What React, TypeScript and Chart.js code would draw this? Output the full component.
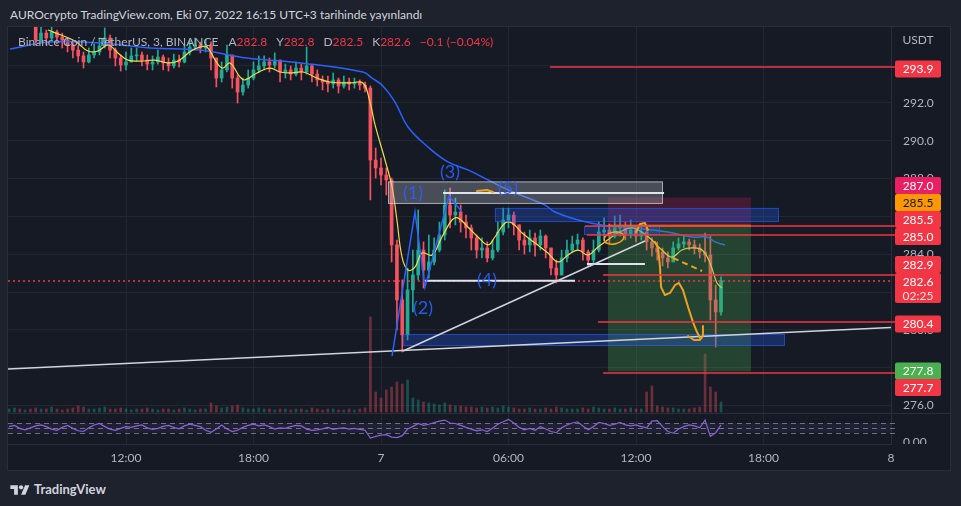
import React, { useEffect, useRef } from 'react';
import { Chart, registerables } from 'chart.js';

Chart.register(...registerables);

const FONT = 'Lato, Roboto, "Open Sans", sans-serif';

// ---------------- data (time in hours from 7 Oct 00:00, UTC+3) ----------------
const CANDLE_START = -17.5;
const CANDLE_STEP = 0.25;
const FIRST_OPEN = 296.2;

const closes = [
  296.30, 296.45, 296.25, 296.40, 296.15, 295.33, 295.70, 295.44, 295.76, 295.49,
  295.33, 295.07, 294.80, 294.49, 294.17, 294.54, 294.70, 295.02, 295.44, 294.80,
  294.38, 294.01, 294.17, 294.49, 294.54, 294.27, 294.06, 294.17, 294.43, 294.12,
  293.96, 294.27, 294.17, 294.70, 294.96, 295.07, 294.91, 295.02, 294.38, 293.32,
  293.75, 294.54, 293.32, 292.58, 292.95, 293.32, 293.75, 293.96, 294.17, 294.01,
  294.27, 293.64, 293.75, 293.53, 293.85, 293.64, 293.96, 293.53, 293.22, 293.11,
  293.01, 293.22, 292.90, 293.11, 293.01, 293.06, 292.95, 292.79, 288.98, 288.56,
  288.19, 287.93, 284.49, 281.58, 279.73, 282.11, 282.90, 284.22, 283.16, 283.59,
  284.22, 285.02, 286.60, 286.07, 286.23, 285.70, 285.39, 284.86, 284.22, 284.33,
  283.80, 284.22, 285.17, 285.81, 286.07, 285.55, 284.75, 284.49, 284.86, 284.49,
  284.96, 284.33, 283.27, 282.90, 283.80, 284.22, 284.54, 284.75, 284.12, 283.69,
  284.22, 285.17, 285.28, 284.96, 285.39, 285.49, 285.07, 285.28, 284.96, 285.17,
  284.65, 284.33, 284.12, 283.80, 283.59, 284.33, 284.54, 284.65, 284.49, 284.33,
  284.12, 283.96, 281.58, 280.94, 282.60,
];
const highs = [
  296.50, 296.60, 296.50, 296.55, 296.45, 296.20, 296.02, 295.86, 296.05, 295.86,
  295.70, 295.44, 295.23, 295.02, 294.70, 294.91, 295.12, 295.44, 295.97, 295.60,
  294.91, 294.54, 294.70, 294.91, 294.91, 294.70, 294.54, 294.49, 294.80, 294.54,
  294.38, 294.59, 294.54, 295.07, 295.33, 295.44, 295.23, 295.33, 295.23, 294.27,
  294.17, 295.07, 294.54, 293.48, 293.32, 293.75, 294.17, 294.49, 294.49, 294.38,
  294.65, 294.17, 294.06, 293.96, 294.17, 294.06, 294.96, 294.06, 293.75, 293.43,
  293.43, 293.59, 293.32, 293.43, 293.32, 293.32, 293.22, 293.11, 292.90, 289.62,
  289.09, 288.56, 288.03, 284.75, 282.64, 283.27, 284.22, 286.34, 284.65, 285.02,
  284.86, 285.70, 287.40, 287.50, 286.97, 286.60, 286.07, 285.55, 285.02, 284.86,
  284.65, 284.75, 285.70, 286.44, 286.44, 286.23, 285.55, 285.17, 285.28, 285.12,
  285.28, 285.02, 284.22, 283.69, 284.22, 284.75, 284.96, 285.07, 284.86, 284.22,
  284.75, 285.70, 285.92, 285.60, 286.02, 286.07, 285.70, 285.81, 285.49, 285.60,
  285.39, 284.86, 284.65, 284.33, 284.12, 284.65, 284.86, 284.96, 284.80, 284.75,
  284.54, 285.12, 284.96, 282.37, 282.80,
];
const lows = [
  296.10, 296.20, 296.10, 296.15, 296.05, 295.07, 295.23, 295.07, 295.33, 295.12,
  294.91, 294.70, 294.38, 294.17, 293.85, 294.12, 294.38, 294.54, 294.91, 294.38,
  293.96, 293.69, 293.75, 294.17, 294.22, 293.96, 293.75, 293.75, 294.06, 293.75,
  293.69, 293.85, 293.90, 294.12, 294.54, 294.80, 294.65, 294.70, 293.75, 292.85,
  293.11, 293.64, 292.79, 292.00, 292.42, 292.79, 293.22, 293.59, 293.75, 293.64,
  293.85, 293.11, 293.32, 293.22, 293.43, 293.22, 293.53, 293.11, 292.90, 292.69,
  292.58, 292.79, 292.53, 292.79, 292.69, 292.79, 292.69, 292.58, 286.87, 288.03,
  287.66, 287.13, 283.59, 279.99, 278.83, 279.46, 280.94, 282.64, 282.21, 282.74,
  283.43, 284.12, 284.75, 285.39, 285.55, 285.17, 284.86, 284.22, 283.80, 283.80,
  283.59, 283.69, 284.12, 285.02, 285.39, 285.02, 284.22, 284.01, 284.12, 283.90,
  284.22, 283.80, 282.90, 282.48, 283.06, 283.59, 284.12, 284.22, 283.69, 283.32,
  283.48, 284.12, 284.75, 284.54, 284.86, 284.96, 284.75, 284.86, 284.65, 284.75,
  284.22, 283.90, 283.69, 283.38, 283.27, 283.80, 284.22, 284.33, 284.22, 284.01,
  283.80, 283.59, 280.52, 279.09, 280.78,
];
const volumes = [
  3, 4, 3, 2, 3, 4, 3, 3, 5, 3,
  2, 3, 4, 6, 5, 3, 3, 4, 5, 3,
  3, 4, 3, 2, 3, 3, 4, 3, 2, 3,
  3, 2, 3, 4, 3, 2, 3, 3, 9, 6,
  4, 5, 6, 7, 4, 3, 3, 4, 3, 3,
  2, 3, 3, 2, 3, 3, 2, 4, 3, 2,
  3, 3, 2, 2, 3, 2, 3, 4, 95, 20,
  14, 22, 25, 30, 28, 32, 14, 12, 10, 9,
  8, 7, 9, 7, 6, 6, 5, 5, 4, 5,
  4, 5, 4, 6, 5, 4, 3, 3, 4, 3,
  3, 4, 3, 5, 4, 3, 3, 3, 4, 3,
  5, 4, 3, 3, 4, 3, 3, 4, 3, 3,
  20, 26, 6, 5, 4, 4, 3, 3, 3, 4,
  5, 58, 25, 20, 10,
];
const rsiValues = [
  55, 60, 48, 42, 50, 58, 62, 55, 45, 40,
  52, 60, 48, 38, 35, 50, 62, 68, 55, 45,
  40, 48, 55, 52, 58, 62, 50, 44, 48, 56,
  60, 52, 46, 58, 65, 60, 55, 40, 32, 45,
  62, 45, 35, 40, 52, 60, 65, 58, 62, 55,
  45, 50, 48, 55, 60, 58, 45, 40, 42, 46,
  52, 44, 48, 50, 45, 48, 44, 40, 8, 15,
  20, 22, 12, 10, 18, 45, 55, 68, 60, 65,
  72, 78, 82, 70, 68, 60, 52, 45, 38, 42,
  35, 48, 65, 75, 85, 70, 52, 42, 48, 40,
  55, 45, 35, 30, 50, 62, 70, 75, 58, 42,
  55, 72, 68, 60, 65, 72, 62, 58, 62, 55,
  50, 78, 80, 55, 35, 28, 45, 55, 62, 58,
  50, 82, 15, 30, 62,
];

const emaTimes = [
  -15.67, -15.06, -14.40, -13.79, -13.32, -12.85, -12.38, -11.91, -11.29, -10.64,
  -10.02, -9.55, -8.94, -8.52, -8.19, -7.72, -7.44, -7.11, -6.64, -6.40,
  -5.84, -5.22, -4.75, -4.28, -3.67, -3.01, -2.40, -1.46, -0.85, -0.52,
  -0.28, 0.19, 0.52, 0.75, 0.99, 1.27, 1.60, 1.93, 2.40, 2.87,
  3.34, 3.62, 4.09, 4.56, 5.04, 5.36, 5.84, 6.16, 6.64, 7.25,
  7.86, 8.33, 8.80, 9.27, 9.74, 10.21, 10.54, 11.15, 11.81, 12.28,
  12.75, 13.22, 13.69, 14.16, 14.64, 15.11, 15.48, 15.81, 16.05,
];
const emaValues = [
  295.86, 295.60, 295.28, 294.75, 294.75, 295.07, 294.65, 294.27, 294.22, 294.27,
  294.12, 294.22, 294.75, 294.96, 294.96, 294.12, 293.85, 294.12, 293.38, 293.22,
  293.59, 293.85, 293.64, 293.59, 293.64, 293.32, 293.11, 293.06, 293.06, 292.05,
  290.84, 288.98, 287.56, 285.81, 283.85, 283.16, 283.32, 284.06, 283.96, 284.91,
  285.81, 285.92, 285.44, 284.91, 284.49, 284.91, 285.65, 285.65, 285.12, 284.59,
  284.06, 283.59, 283.96, 284.22, 283.96, 284.38, 284.65, 285.12, 285.39, 285.17,
  284.75, 284.22, 283.85, 284.22, 284.33, 284.22, 283.54, 282.48, 282.21,
];
const maTimes = [
  -17.46, -15.58, -13.22, -10.87, -8.52, -6.31, -3.81, -0.85, -0.42, 0.09,
  0.66, 1.27, 2.21, 3.15, 4.09, 5.04, 5.98, 6.92, 7.72, 8.19,
  9.27, 10.40, 11.95, 13.51, 14.64, 15.34, 15.72, 16.19,
];
const maValues = [
  294.86, 295.23, 295.17, 294.91, 294.80, 294.38, 294.12, 293.64, 293.32, 292.90,
  292.05, 290.73, 289.67, 288.88, 288.46, 287.93, 287.40, 286.97, 286.60, 286.23,
  285.81, 285.55, 285.39, 285.17, 284.91, 284.91, 284.65, 284.49,
];

const timeTicks = [-12, -6, 0, 6, 12, 18, 24];
const timeLabels = ['12:00', '18:00', '7', '06:00', '12:00', '18:00', '8'];
const priceTicks = [276, 278, 280, 282, 284, 286, 288, 290, 292, 294];
const rsiLevels = [70, 50, 30];

const lastPrice = 282.6;
const countdown = '02:25';
const axisLabelPrices = [293.9, 287.0, 285.5, 285.5, 285.0, 282.9, 280.4, 277.8, 277.7];

// drawings, in (hour, price)
const levelPrices = [293.9, 285.5, 285.0, 282.9, 280.4, 277.7];
const levelStarts = [7.95, 9.6, 9.69, 10.45, 10.21, 10.45];
const positionTimes = [10.68, 17.41];
const positionEntry = 285.5;
const positionStop = 287.0;
const positionTarget = 277.8;
const blueBoxes = [
  [5.36, 18.73, 286.45, 285.70],
  [9.55, 13.13, 285.49, 285.02],
  [1.04, 19.01, 279.78, 279.14],
];
const grayBox = [0.33, 13.27, 287.85, 286.66];
const whiteLevels = [
  [2.92, 13.32, 287.24],
  [2.07, 9.13, 282.6],
  [9.69, 12.42, 283.48],
];
const trendLines = [
  [-17.553, 277.93, 24, 280.12],
  [1.04, 278.88, 12.42, 284.70],
];
const waveTimes = [0.52, 1.60, 2.07, 3.20, 3.81];
const wavePrices = [278.61, 286.23, 282.26, 287.08, 286.23];
const waveLabels = ['(1)', '(2)', '(3)', '(4)', '(5)'];
const waveLabelTimes = [1.51, 1.98, 3.25, 4.99, 5.98];
const waveLabelPrices = [287.24, 281.15, 288.35, 282.63, 287.50];
const projTimes = [12.89, 13.04, 13.13, 13.18, 13.36, 13.60, 13.84, 14.02, 14.21, 14.45, 14.68, 14.87, 15.01];
const projPrices = [284.65, 284.33, 283.32, 282.26, 281.84, 281.95, 282.37, 282.48, 282.11, 281.21, 280.41, 279.88, 279.57];
const hookTimes = [14.45, 14.73, 15.01, 15.15, 15.15];
const hookPrices = [279.67, 279.46, 279.46, 279.67, 280.20];
const dashTimes = [13.74, 15.11];
const dashPrices = [283.80, 283.11];
const tickTimes = [4.52, 4.99, 5.27];
const tickPrices = [287.34, 287.40, 287.29];
const loopBox = [10.49, 11.44, 285.17, 284.54];
const bumpTimes = [12.0, 12.19, 12.42, 12.56];
const bumpPrices = [285.17, 285.60, 285.65, 285.28];

// ---------------- chart ----------------
const UP = '#22ab94';
const DOWN = '#f7525f';

const X_MIN = -17.553;
const X_MAX = 24;
const Y_MIN = 273.958;
const Y_MAX = 296.021;
const PANE_SPLIT = 275.6;

function rrect(ctx: CanvasRenderingContext2D, x: number, y: number, w: number, h: number, r: number) {
  ctx.beginPath();
  ctx.moveTo(x + r, y);
  ctx.arcTo(x + w, y, x + w, y + h, r);
  ctx.arcTo(x + w, y + h, x, y + h, r);
  ctx.arcTo(x, y + h, x, y, r);
  ctx.arcTo(x, y, x + w, y, r);
  ctx.closePath();
}

const LABEL_STYLES = [
  { bg: '#f23645', fg: '#ffffff', dy: 1.9 },
  { bg: '#e91e63', fg: '#ffffff', dy: -12 },
  { bg: '#ff9800', fg: '#131722', dy: -23.4 },
  { bg: '#f23645', fg: '#ffffff', dy: -6.4 },
  { bg: '#f23645', fg: '#ffffff', dy: 1.2 },
  { bg: '#f23645', fg: '#ffffff', dy: -10.5 },
  { bg: '#f23645', fg: '#ffffff', dy: 1.8 },
  { bg: '#4caf50', fg: '#ffffff', dy: -0.4 },
  { bg: '#f23645', fg: '#ffffff', dy: 14.2 },
];

const overlayPlugin = {
  id: 'tvOverlay',
  beforeDatasetsDraw(chart: any) {
    const { ctx, chartArea: a, scales } = chart;
    const r = scales.yr;
    const y = scales.y;
    ctx.save();
    const y70 = r.getPixelForValue(rsiLevels[0]);
    const y30 = r.getPixelForValue(rsiLevels[2]);
    ctx.fillStyle = 'rgba(126,87,194,0.10)';
    ctx.fillRect(a.left, y70, a.width, y30 - y70);
    ctx.setLineDash([5, 4]);
    ctx.strokeStyle = 'rgba(178,181,190,0.55)';
    ctx.lineWidth = 1;
    rsiLevels.forEach((lv) => {
      const yy = Math.round(r.getPixelForValue(lv)) + 0.5;
      ctx.beginPath();
      ctx.moveTo(a.left, yy);
      ctx.lineTo(a.right + 4, yy);
      ctx.stroke();
    });
    ctx.setLineDash([]);
    ctx.strokeStyle = '#2a2e39';
    const sy = Math.round(y.getPixelForValue(PANE_SPLIT)) + 0.5;
    ctx.beginPath();
    ctx.moveTo(a.left, sy);
    ctx.lineTo(chart.width, sy);
    ctx.stroke();
    ctx.restore();
  },
  afterDatasetsDraw(chart: any) {
    const { ctx, chartArea: a, scales } = chart;
    const X = (h: number) => scales.x.getPixelForValue(h);
    const Y = (p: number) => scales.y.getPixelForValue(p);
    ctx.save();
    ctx.beginPath();
    ctx.rect(a.left, a.top, a.width, Y(PANE_SPLIT) - a.top);
    ctx.clip();

    // short position tool
    const px0 = X(positionTimes[0]);
    const px1 = X(positionTimes[1]);
    ctx.fillStyle = 'rgba(76,175,80,0.28)';
    ctx.fillRect(px0, Y(positionEntry), px1 - px0, Y(positionTarget) - Y(positionEntry));
    ctx.fillStyle = 'rgba(233,30,99,0.22)';
    ctx.fillRect(px0, Y(positionStop), px1 - px0, Y(positionEntry) - Y(positionStop));

    // blue rectangles
    blueBoxes.forEach(([t0, t1, p0, p1]) => {
      const x0 = X(t0), x1 = X(t1), y0 = Y(p0), y1 = Y(p1);
      ctx.fillStyle = 'rgba(41,98,255,0.28)';
      ctx.fillRect(x0, y0, x1 - x0, y1 - y0);
      ctx.strokeStyle = 'rgba(41,98,255,0.55)';
      ctx.lineWidth = 1;
      ctx.strokeRect(x0 + 0.5, y0 + 0.5, x1 - x0 - 1, y1 - y0 - 1);
    });
    // gray rectangle
    {
      const [t0, t1, p0, p1] = grayBox;
      const x0 = X(t0), x1 = X(t1), y0 = Y(p0), y1 = Y(p1);
      ctx.fillStyle = 'rgba(178,181,190,0.33)';
      ctx.fillRect(x0, y0, x1 - x0, y1 - y0);
      ctx.strokeStyle = 'rgba(220,222,228,0.65)';
      ctx.strokeRect(x0 + 0.5, y0 + 0.5, x1 - x0 - 1, y1 - y0 - 1);
    }
    // entry line
    ctx.strokeStyle = '#ff9800';
    ctx.lineWidth = 2;
    ctx.beginPath();
    ctx.moveTo(px0, Y(positionEntry));
    ctx.lineTo(px1, Y(positionEntry));
    ctx.stroke();

    // current price dotted line
    ctx.strokeStyle = '#f23645';
    ctx.lineWidth = 1.4;
    ctx.setLineDash([2, 3]);
    const lp = Math.round(Y(lastPrice));
    ctx.beginPath();
    ctx.moveTo(a.left, lp);
    ctx.lineTo(a.right, lp);
    ctx.stroke();
    ctx.setLineDash([]);

    // white horizontal lines
    ctx.strokeStyle = '#e0e3eb';
    ctx.lineWidth = 2;
    whiteLevels.forEach(([t0, t1, p]) => {
      ctx.beginPath();
      ctx.moveTo(X(t0), Y(p));
      ctx.lineTo(X(t1), Y(p));
      ctx.stroke();
    });
    // trend lines
    ctx.strokeStyle = '#d1d4dc';
    ctx.lineWidth = 1.5;
    trendLines.forEach(([t0, p0, t1, p1]) => {
      ctx.beginPath();
      ctx.moveTo(X(t0), Y(p0));
      ctx.lineTo(X(t1), Y(p1));
      ctx.stroke();
    });
    // elliott wave path
    ctx.strokeStyle = '#2962ff';
    ctx.lineWidth = 1.5;
    ctx.beginPath();
    waveTimes.forEach((t, i) => (i ? ctx.lineTo(X(t), Y(wavePrices[i])) : ctx.moveTo(X(t), Y(wavePrices[i]))));
    ctx.stroke();

    // orange projection
    ctx.strokeStyle = '#f0a020';
    ctx.lineWidth = 2;
    ctx.lineJoin = 'round';
    ctx.lineCap = 'round';
    const poly = (ts: number[], ps: number[]) => {
      ctx.beginPath();
      ts.forEach((t, i) => (i ? ctx.lineTo(X(t), Y(ps[i])) : ctx.moveTo(X(t), Y(ps[i]))));
      ctx.stroke();
    };
    poly(projTimes, projPrices);
    poly(hookTimes, hookPrices);
    poly(tickTimes, tickPrices);
    poly(bumpTimes, bumpPrices);
    {
      const [t0, t1, p0, p1] = loopBox;
      const cx = (X(t0) + X(t1)) / 2;
      const cy = (Y(p0) + Y(p1)) / 2;
      ctx.lineWidth = 1.6;
      ctx.beginPath();
      ctx.ellipse(cx, cy, Math.abs(X(t1) - X(t0)) / 2, Math.abs(Y(p1) - Y(p0)) / 2, -0.2, 0, Math.PI * 2);
      ctx.stroke();
      ctx.lineWidth = 2;
    }
    ctx.setLineDash([6, 4]);
    ctx.lineCap = 'butt';
    poly(dashTimes, dashPrices);
    ctx.setLineDash([]);

    // wave labels
    ctx.fillStyle = 'rgba(41,98,255,0.9)';
    ctx.font = `18px ${FONT}`;
    ctx.textAlign = 'center';
    ctx.textBaseline = 'middle';
    waveLabels.forEach((s, i) => ctx.fillText(s, X(waveLabelTimes[i]), Y(waveLabelPrices[i])));
    ctx.restore();

    // price level lines (extend to axis)
    ctx.save();
    ctx.strokeStyle = '#f23645';
    ctx.lineWidth = 1.5;
    levelPrices.forEach((p, i) => {
      const yy = Math.round(Y(p));
      ctx.beginPath();
      ctx.moveTo(X(levelStarts[i]), yy);
      ctx.lineTo(a.right + 4, yy);
      ctx.stroke();
    });
    ctx.restore();
  },
  afterDraw(chart: any) {
    const { ctx, chartArea: a, scales } = chart;
    const Y = (p: number) => scales.y.getPixelForValue(p);
    const left = a.right + 4;
    const w = 46;
    const h = 17;
    ctx.save();
    ctx.font = `12px ${FONT}`;
    ctx.textAlign = 'center';
    ctx.textBaseline = 'middle';
    ctx.fillStyle = '#b2b5be';
    ctx.fillText('USDT', left + w / 2, 13);
    axisLabelPrices.forEach((p, i) => {
      const st = LABEL_STYLES[i];
      const cy = Y(p) + st.dy;
      ctx.fillStyle = st.bg;
      rrect(ctx, left, cy - h / 2, w, h, 2);
      ctx.fill();
      ctx.fillStyle = st.fg;
      ctx.fillText(p.toFixed(1), left + w / 2, cy + 0.5);
    });
    const cy = Y(lastPrice);
    ctx.fillStyle = '#f23645';
    rrect(ctx, left, cy - 7.7, w, 30, 2);
    ctx.fill();
    ctx.fillStyle = '#ffffff';
    ctx.fillText(lastPrice.toFixed(1), left + w / 2, cy + 1.5);
    ctx.fillStyle = 'rgba(255,255,255,0.85)';
    ctx.fillText(countdown, left + w / 2, cy + 15);
    ctx.beginPath();
    ctx.rect(a.right, Y(PANE_SPLIT), chart.width - a.right, a.bottom - Y(PANE_SPLIT));
    ctx.clip();
    ctx.fillStyle = '#b2b5be';
    ctx.textAlign = 'left';
    ctx.fillText((0).toFixed(2), a.right + 12, scales.yr.getPixelForValue(0) + 2);
    ctx.restore();
  },
};

function TVLogo() {
  return (
    <svg width="20" height="15" viewBox="0 0 36 28" style={{ position: 'absolute', left: 10, top: 483 }}>
      <path d="M14 22H7V11H0V4h14v18z" fill="#d1d4dc" />
      <circle cx="20" cy="8" r="4" fill="#d1d4dc" />
      <path d="M28 22h-8l7.5-18h8L28 22z" fill="#d1d4dc" />
    </svg>
  );
}

export default function App() {
  const ref = useRef<HTMLCanvasElement | null>(null);

  useEffect(() => {
    document.body.style.margin = '0';
    document.body.style.background = '#1e222d';
    const canvas = ref.current;
    if (!canvas) return;

    const times = closes.map((_, i) => CANDLE_START + i * CANDLE_STEP);
    const opens = closes.map((_, i) => (i === 0 ? FIRST_OPEN : closes[i - 1]));
    const isUp = closes.map((c, i) => c >= opens[i]);

    const wickData = times.map((t, i) => ({
      x: t,
      y: [Math.min(lows[i], opens[i], closes[i]), Math.max(highs[i], opens[i], closes[i])],
    }));
    const bodyData = times.map((t, i) => ({ x: t, y: [opens[i], closes[i]] }));
    const volData = times.map((t, i) => ({ x: t, y: volumes[i] }));
    const rsiData = times.map((t, i) => ({ x: t, y: rsiValues[i] }));
    const emaData = emaTimes.map((t, i) => ({ x: t, y: emaValues[i] }));
    const maData = maTimes.map((t, i) => ({ x: t, y: maValues[i] }));
    const colors = isUp.map((u) => (u ? UP : DOWN));
    const volColors = isUp.map((u) => (u ? 'rgba(34,171,148,0.38)' : 'rgba(247,82,95,0.38)'));

    const chart = new Chart(canvas, {
      type: 'bar',
      data: {
        datasets: [
          {
            type: 'line',
            data: emaData,
            yAxisID: 'y',
            borderColor: '#f2dc4a',
            borderWidth: 1.2,
            pointRadius: 0,
            tension: 0.4,
          } as any,
          {
            type: 'line',
            data: maData,
            yAxisID: 'y',
            borderColor: '#2962ff',
            borderWidth: 1.5,
            pointRadius: 0,
            tension: 0.4,
          } as any,
          {
            type: 'bar',
            data: bodyData,
            yAxisID: 'y',
            backgroundColor: colors,
            barThickness: 3,
            minBarLength: 1,
            grouped: false,
            borderWidth: 0,
          } as any,
          {
            type: 'bar',
            data: wickData,
            yAxisID: 'y',
            backgroundColor: colors,
            barThickness: 1,
            grouped: false,
            borderWidth: 0,
          } as any,
          {
            type: 'bar',
            data: volData,
            yAxisID: 'yv',
            backgroundColor: volColors,
            barThickness: 2,
            grouped: false,
            borderWidth: 0,
          } as any,
          {
            type: 'line',
            data: rsiData,
            yAxisID: 'yr',
            borderColor: '#8b63d6',
            borderWidth: 1.2,
            pointRadius: 0,
            tension: 0,
          } as any,
        ],
      },
      options: {
        animation: false,
        responsive: false,
        maintainAspectRatio: false,
        events: [],
        layout: { padding: 0 },
        plugins: { legend: { display: false }, tooltip: { enabled: false } },
        scales: {
          x: {
            type: 'linear',
            min: X_MIN,
            max: X_MAX,
            offset: false,
            grid: { color: '#232733', drawTicks: false, offset: false },
            border: { display: true, color: '#2a2e39' },
            ticks: {
              color: '#b2b5be',
              font: { size: 12, family: FONT },
              padding: 7,
              maxRotation: 0,
              autoSkip: false,
              callback: (v: any) => {
                const k = timeTicks.indexOf(Number(v));
                return k >= 0 ? timeLabels[k] : '';
              },
            },
            afterBuildTicks: (s: any) => {
              s.ticks = timeTicks.map((v) => ({ value: v }));
            },
            afterFit: (s: any) => {
              s.height = 26;
              s.paddingLeft = 0;
              s.paddingRight = 0;
            },
          },
          y: {
            type: 'linear',
            position: 'right',
            min: Y_MIN,
            max: Y_MAX,
            grid: { color: '#232733', drawTicks: false },
            border: { display: true, color: '#2a2e39' },
            ticks: {
              color: '#b2b5be',
              font: { size: 12, family: FONT },
              padding: 12,
              callback: (v: any) => Number(v).toFixed(1),
            },
            afterBuildTicks: (s: any) => {
              s.ticks = priceTicks.map((v) => ({ value: v }));
            },
            afterFit: (s: any) => {
              s.width = 59;
              s.paddingTop = 0;
              s.paddingBottom = 0;
            },
          },
          yv: { type: 'linear', display: false, min: -32, max: 385 },
          yr: { type: 'linear', display: false, min: -16.47, max: 1700.3 },
        },
      } as any,
      plugins: [overlayPlugin as any],
    });
    return () => chart.destroy();
  }, []);

  const red = { color: '#f23645' };
  return (
    <div
      style={{
        position: 'fixed',
        left: 0,
        top: 0,
        width: 961,
        height: 506,
        background: '#1e222d',
        overflow: 'hidden',
        fontFamily: FONT,
      }}
    >
      <div style={{ position: 'absolute', left: 10, top: 7, fontSize: 12, color: '#d1d4dc', whiteSpace: 'nowrap' }}>
        AUROcrypto TradingView.com, Eki 07, 2022 16:15 UTC+3 tarihinde yayınlandı
      </div>
      <canvas
        ref={ref}
        width={942}
        height={443}
        style={{ position: 'absolute', left: 8, top: 27, width: 942, height: 443, background: '#161a25', outline: '1px solid #2a2e39' }}
      />
      <div
        style={{
          position: 'absolute',
          left: 18,
          top: 34,
          fontSize: 12,
          color: '#b2b5be',
          whiteSpace: 'pre',
          display: 'flex',
        }}
      >
        <span>Binance Coin / TetherUS, 3, BINANCE</span>
        <span style={{ marginLeft: 10 }}>A<span style={red}>282.8</span></span>
        <span style={{ marginLeft: 9 }}>Y<span style={red}>282.8</span></span>
        <span style={{ marginLeft: 9 }}>D<span style={red}>282.5</span></span>
        <span style={{ marginLeft: 9 }}>K<span style={red}>282.6</span></span>
        <span style={{ marginLeft: 9, ...red }}>−0.1 (−0.04%)</span>
      </div>
      <TVLogo />
      <div style={{ position: 'absolute', left: 34, top: 481, fontSize: 13, fontWeight: 700, color: '#d1d4dc' }}>TradingView</div>
    </div>
  );
}
